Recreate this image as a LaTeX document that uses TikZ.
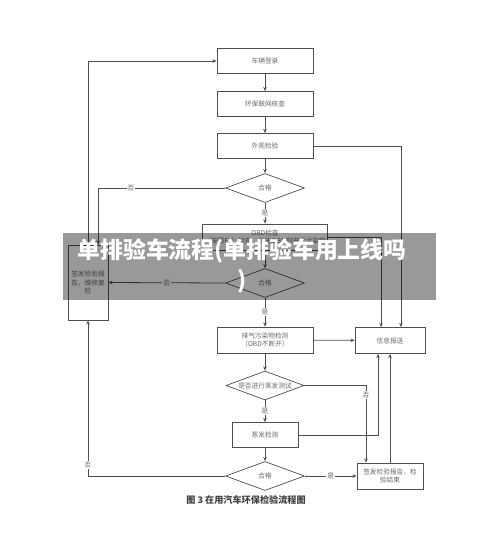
\documentclass[tikz,border=0pt]{standalone}
\usepackage{fontspec}
\newfontfamily\cjk{Noto Sans CJK SC}
\usetikzlibrary{shapes.geometric,arrows.meta}
\definecolor{linegray}{RGB}{80,80,80}
\definecolor{textgray}{RGB}{105,105,105}
\tikzset{
  stepbox/.style={draw=linegray, fill=white, rectangle, minimum width=1.92cm, minimum height=0.5cm, inner sep=1pt, align=center, text=textgray, font=\cjk\fontsize{3.8}{4.8}\selectfont},
  check/.style={draw=linegray, fill=white, diamond, aspect=2.7, minimum width=1.58cm, minimum height=0.58cm, inner sep=0pt, text=textgray, font=\cjk\fontsize{3.8}{4.8}\selectfont},
  yesno/.style={fill=white, inner sep=0.6pt, text=textgray, font=\cjk\fontsize{3.8}{4.8}\selectfont},
  flow/.style={draw=linegray, line width=0.45pt, ->, >={Stealth[length=2.4pt,width=2pt]}},
}
\begin{document}
\begin{tikzpicture}[x=0.02cm, y=-0.02cm]
    \useasboundingbox (0,0) rectangle (500,535);

    % main column
    \node[stepbox] (login) at (265,61) {车辆登录};
    \node[stepbox] (netchk) at (265,104) {环保联网核查};
    \node[stepbox] (visual) at (265,146) {外观检验};
    \node[check] (ok1) at (265,188) {合格};
    \node[stepbox, minimum width=2.48cm, minimum height=0.52cm] (obd) at (265,237) {OBD检查\\（按照FL）检查，如无OBD则进行污染物};
    \node[check] (ok2) at (265,283) {合格};
    \node[stepbox, minimum height=0.52cm] (exhaust) at (265,340) {排气污染物检测\\（OBD不断开）};
    \node[check, minimum width=1.56cm] (evapq) at (265,385.5) {是否进行蒸发测试};
    \node[stepbox, minimum width=1.32cm] (evaptest) at (265,435) {蒸发检测};
    \node[check] (ok3) at (265,476) {合格};

    % side boxes
    \node[stepbox, minimum width=1.4cm, minimum height=0.52cm] (report) at (390,340.5) {信息报送};
    \node[stepbox, minimum width=1.32cm, minimum height=0.52cm] (finish) at (390,476) {签发检验报告，检\\验结束};
    \node[stepbox, minimum width=0.8cm, minimum height=1.5cm] (repair) at (88,282.5) {签发检验报\\告，维修复\\检};

    % main flow
    \draw[flow] (login) -- (netchk);
    \draw[flow] (netchk) -- (visual);
    \draw[flow] (visual) -- (ok1);
    \draw[flow] (ok1) -- node[yesno]{是} (obd);
    \draw[flow] (obd) -- (ok2);
    \draw[flow] (ok2) -- node[yesno]{是} (exhaust);
    \draw[flow] (exhaust) -- (evapq);
    \draw[flow] (evapq) -- node[yesno]{是} (evaptest);
    \draw[flow] (evaptest) -- (ok3);
    \draw[flow] (ok3) -- node[yesno]{是} (finish);

    % failures back to repair
    \draw[flow] (ok1.west) -| node[yesno, pos=0.37]{否} ([xshift=0.2cm]repair.north);
    \draw[flow] (ok2.west) -- node[yesno]{否} (repair.east);
    \draw[flow] (ok3.west) -| node[yesno, pos=0.535]{否} (repair.south);
    \draw[flow] (repair.north) |- (login.west);

    % information reporting
    \draw[flow] (visual.east) -| ([xshift=0.22cm]report.north);
    \draw[flow] (obd.east) -| ([xshift=-0.18cm]report.north);
    \draw[flow] (exhaust) -- (report);
    \draw[flow] (evapq.east) -| node[yesno, pos=0.56]{否} ([xshift=-0.48cm]finish.north);
    \draw[flow] (evaptest.east) -| ([xshift=-0.24cm]report.south);
    \draw[flow] (finish.north) -- (report.south);

    % caption
    \node[font=\cjk\bfseries\fontsize{5.2}{6}\selectfont, text=black!75] (caption) at (246,500) {图 3 在用汽车环保检验流程图};

    % overlay banner
    \fill[black, fill opacity=0.4] (63,233) rectangle (436,300);
    \node[text=white, align=center, font=\cjk\bfseries\fontsize{13}{17}\selectfont] (banner) at (242,266) {单排验车流程(单排验车用上线吗\\)};
\end{tikzpicture}
\end{document}
